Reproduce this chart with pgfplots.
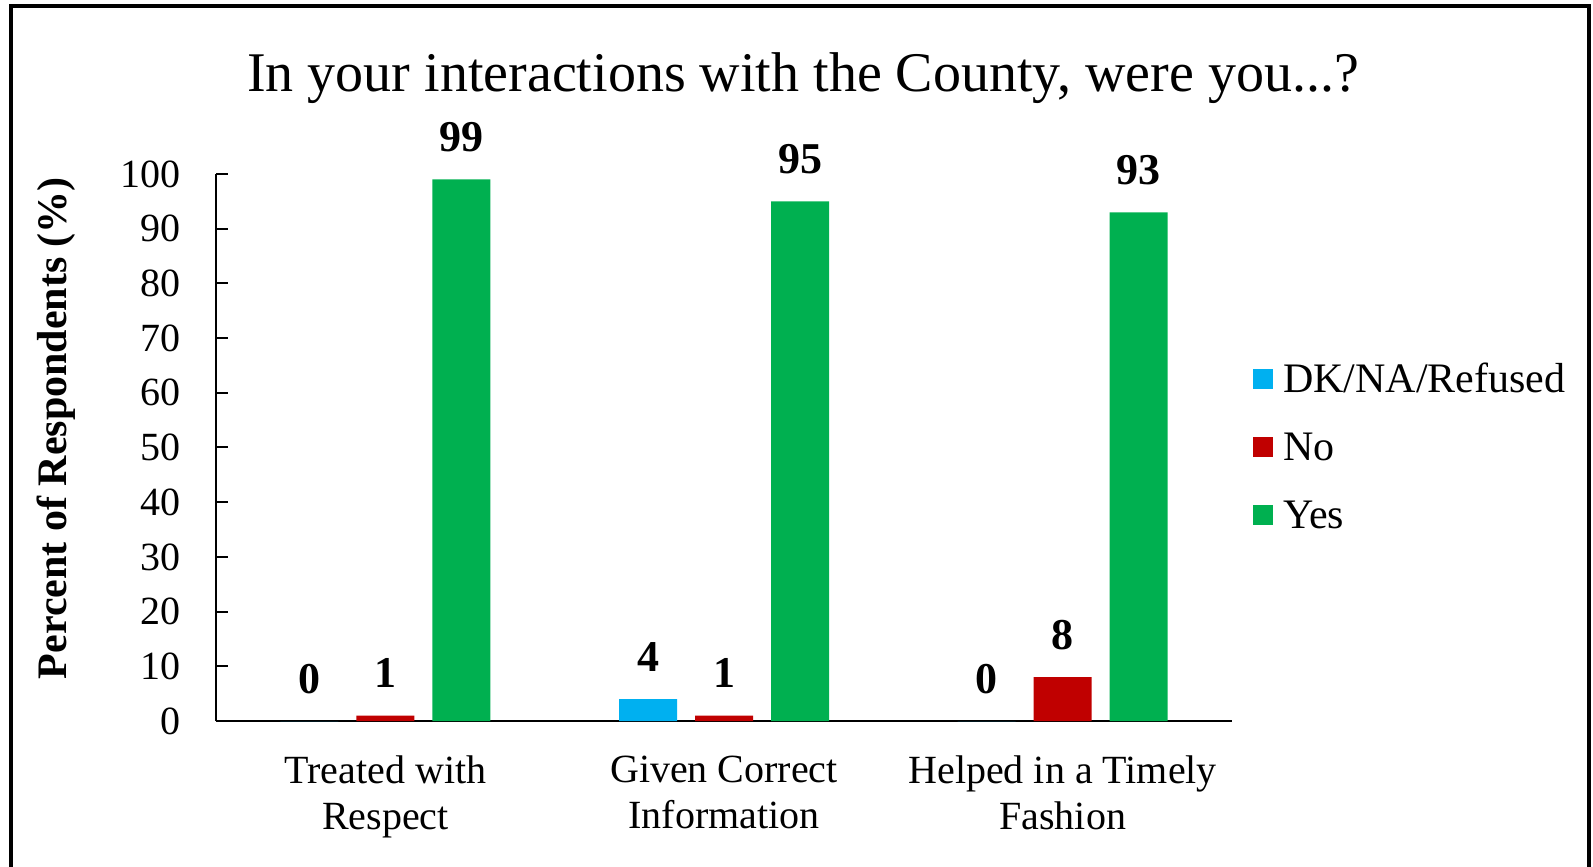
\documentclass[border=0pt]{standalone}
\usepackage{fontspec}
\setmainfont{Liberation Serif}
\usepackage{pgfplots}
\pgfplotsset{compat=1.18}
\definecolor{dkblue}{HTML}{00B0F0}
\definecolor{nored}{HTML}{C00000}
\definecolor{yesgreen}{HTML}{00B050}
\begin{document}
\begin{tikzpicture}
\begin{axis}[
  at={(0pt,0pt)}, anchor=south west,
  scale only axis, width=254pt, height=136.75pt,
  xmin=-0.5, xmax=2.5, ymin=0, ymax=100,
  clip=false,
  axis x line*=bottom, axis y line*=left,
  axis line style={line width=0.5pt, -},
  xtick={0,1,2},
  xticklabels={{Treated with\\Respect},{Given Correct\\Information},{Helped in a Timely\\Fashion}},
  xticklabel style={align=center, font=\fontsize{10}{11.6}\selectfont, inner sep=0pt, anchor=north, yshift=-5.5pt},
  x tick style={draw=none},
  ytick={0,10,...,100},
  tick align=inside,
  major tick length=3pt,
  y tick style={black, line width=0.5pt},
  yticklabel style={font=\fontsize{10}{12}\selectfont, inner sep=0pt, anchor=east, xshift=-8.75pt},
  /pgf/number format/assume math mode=true,
  ylabel={\textbf{Percent of Respondents (\%)}},
  ylabel style={at={(axis description cs:-0.1575,0.5356)}, anchor=center, font=\fontsize{10.5}{12}\selectfont},
  title={In your interactions with the County, were you...?},
  title style={at={(axis description cs:0.5778,1.1071)}, anchor=base, font=\fontsize{14}{16}\selectfont},
  ybar, bar width=14.5pt,
  nodes near coords,
  every node near coord/.append style={font=\bfseries\fontsize{11}{13}\selectfont, anchor=base, inner sep=0pt, yshift=7pt, text=black},
  legend image code/.code={\path[fill=none, draw=none] (0pt,-1.55pt) rectangle (7.5pt,3.45pt); \fill[#1] (0pt,-1.55pt) rectangle (5pt,3.45pt);},
  legend style={at={(axis description cs:1.0207,0.6516)}, anchor=north west, draw=none, fill=none,
    inner sep=0pt, outer sep=0pt, row sep=7.97pt,
    nodes={inner sep=0pt, text height=7pt, text depth=2pt, font=\fontsize{10.5}{12}\selectfont}},
  legend cell align=left,
]
\addplot[fill=dkblue, draw=none, bar shift=-19pt] coordinates {(0,0) (1,4) (2,0)};
\addplot[fill=nored, draw=none, bar shift=0pt] coordinates {(0,1) (1,1) (2,8)};
\addplot[fill=yesgreen, draw=none, bar shift=19pt] coordinates {(0,99) (1,95) (2,93)};
\legend{DK/NA/Refused, No, Yes}
\end{axis}
\draw[line width=1pt] (-51.25pt,-37pt) -- (-51.25pt,178.75pt) -- (343.25pt,178.75pt) -- (343.25pt,-37pt);
\pgfresetboundingbox
\useasboundingbox (-54pt,-36.25pt) rectangle (344.25pt,180.25pt);
\end{tikzpicture}
\end{document}
